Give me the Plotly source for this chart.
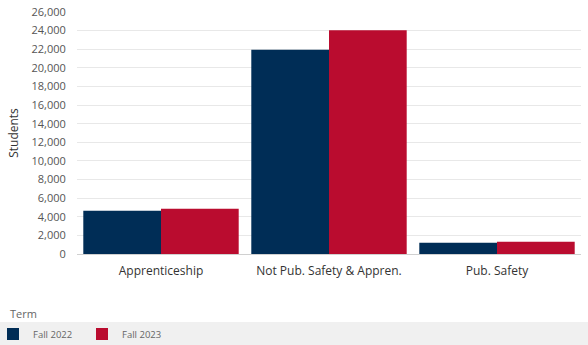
import plotly.graph_objects as go

categories = ["Apprenticeship", "Not Pub. Safety & Appren.", "Pub. Safety"]
fall_2022 = [4660, 21950, 1215]
fall_2023 = [4870, 24050, 1320]
series_names = ["Fall 2022", "Fall 2023"]
colors = ["#002D56", "#BA0C2F"]
y_ticks = list(range(0, 26001, 2000))

W, H = 588, 345
L, R, T, B = 77, 7, 12, 91
pw, ph = W - L - R, H - T - B

fig = go.Figure()
for name, vals, c in zip(series_names, [fall_2022, fall_2023], colors):
    fig.add_trace(go.Bar(x=categories, y=vals, name=name, marker_color=c,
                         marker_line_width=0))

font_family = "Open Sans, Noto Sans, sans-serif"
fig.update_layout(
    width=W, height=H,
    margin=dict(l=L, r=R, t=T, b=B, pad=0, autoexpand=False),
    paper_bgcolor="white", plot_bgcolor="white",
    barmode="group", bargap=0.075, bargroupgap=0,
    font=dict(family=font_family, color="#444"),
    xaxis=dict(tickfont=dict(size=12, color="#333"), showline=False,
               ticks="outside", ticklen=6, tickcolor="rgba(0,0,0,0)",
               showgrid=False, automargin=False),
    yaxis=dict(range=[0, 26000], tickvals=y_ticks,
               tickformat=",d", tickfont=dict(size=11, color="#555"),
               gridcolor="#e8e8e8", gridwidth=1, zeroline=True,
               zerolinecolor="#d0d0d0", zerolinewidth=1,
               title=dict(text="Students", font=dict(size=12, color="#333"), standoff=10),
               ticks="outside", ticklen=8, tickcolor="rgba(0,0,0,0)",
               automargin=False),
    legend=dict(orientation="h", x=-(L + 7) / pw, xanchor="left",
                y=-(334 - (T + ph)) / ph, yanchor="middle",
                font=dict(size=9.5, color="#666"), bgcolor="rgba(0,0,0,0)",
                entrywidth=44, entrywidthmode="pixels",
                itemwidth=30, traceorder="normal"),
    shapes=[dict(type="rect", xref="paper", yref="paper",
                 x0=-L / pw, x1=1 + R / pw,
                 y0=-B / ph, y1=-(322 - (T + ph)) / ph,
                 fillcolor="#f0f0f0", line_width=0, layer="below")],
    annotations=[dict(text="Term", xref="paper", yref="paper",
                      x=-(L - 8) / pw, xanchor="left",
                      y=-(313 - (T + ph)) / ph, yanchor="middle",
                      showarrow=False, font=dict(size=11, color="#666"))],
)
fig.write_html("out.html", config={"displayModeBar": False},
               post_script="document.body.style.margin='0';document.body.style.overflow='hidden';")
